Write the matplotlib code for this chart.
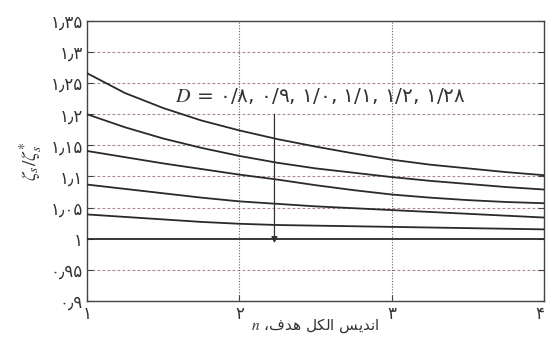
import numpy as np
import matplotlib.pyplot as plt

plt.rcParams['font.family'] = ['DejaVu Sans']
plt.rcParams['mathtext.fontset'] = 'stix'

# n values and zeta ratio curves (top to bottom, D = 0.8 ... 1.28)
n = [1, 1.25, 1.5, 1.75, 2, 2.25, 2.5, 2.75, 3, 3.25, 3.5, 3.75, 4]
c1 = [1.266, 1.234, 1.210, 1.190, 1.174, 1.160, 1.148, 1.137, 1.127, 1.119, 1.113, 1.107, 1.102]
c2 = [1.200, 1.179, 1.161, 1.146, 1.133, 1.122, 1.113, 1.106, 1.099, 1.093, 1.088, 1.083, 1.079]
c3 = [1.141, 1.131, 1.121, 1.112, 1.103, 1.095, 1.086, 1.078, 1.071, 1.066, 1.062, 1.059, 1.057]
c4 = [1.087, 1.080, 1.073, 1.066, 1.060, 1.056, 1.052, 1.049, 1.046, 1.043, 1.040, 1.037, 1.034]
c5 = [1.039, 1.035, 1.031, 1.027, 1.024, 1.022, 1.021, 1.020, 1.019, 1.018, 1.017, 1.016, 1.015]
c6 = [1.0] * 13

yticks = [0.9, 0.95, 1.0, 1.05, 1.1, 1.15, 1.2, 1.25, 1.3, 1.35]
ylabels = ['۰٫۹', '۰٫۹۵', '۱', '۱٫۰۵', '۱٫۱', '۱٫۱۵', '۱٫۲', '۱٫۲۵', '۱٫۳', '۱٫۳۵']
xticks = [1, 2, 3, 4]
xlabels = ['۱', '۲', '۳', '۴']

# matplotlib lays text out left to right without shaping,
# so the words are given in visual order with presentation forms
w1 = '\uFEB2\uFBFE\uFEAA\uFEE7\uFE8D'   # اندیس
w2 = '\uFEDE\uFB91\uFEDF\uFE8D'         # الکل
w3 = '\uFED1\uFEAA\uFEEB'               # هدف
xlab = r'$n$' + ' \u060C' + w3 + ' ' + w2 + ' ' + w1

fig = plt.figure(figsize=(5.47, 3.37), dpi=100)
ax = fig.add_axes([0.159, 0.107, 0.836, 0.831])

for yy in yticks:
    if yy not in (0.9, 1.0, 1.35):
        ax.axhline(yy, color='#a88a8a', lw=0.8, ls=(0, (2.5, 2)), zorder=1)
for xx in [2, 3]:
    ax.axvline(xx, color='#666666', lw=0.8, ls=(0, (1, 1.5)), zorder=1)

for c in [c1, c2, c3, c4, c5, c6]:
    ax.plot(n, c, color='#2a2a2a', lw=1.3, zorder=3)

ax.annotate('', xy=(2.23, 0.993), xytext=(2.23, 1.2),
            arrowprops=dict(arrowstyle='-|>', color='#333333', lw=0.9,
                            mutation_scale=9, shrinkA=0, shrinkB=0), zorder=4)
ax.text(1.58, 1.229, r'$D$ = ۰/۸, ۰/۹, ۱/۰, ۱/۱, ۱/۲, ۱/۲۸', fontsize=14.5,
        color='#333333', va='center', ha='left', zorder=5)

ax.set_xlim(1, 4)
ax.set_ylim(0.9, 1.35)
ax.set_xticks(xticks)
ax.set_xticklabels(xlabels, fontsize=12)
ax.get_xticklabels()[-1].set_ha('right')
ax.set_yticks(yticks)
ax.set_yticklabels(ylabels, fontsize=12)
ax.tick_params(direction='in', length=4, color='#444444', labelcolor='#333333',
               right=True, top=False, pad=3)
for s in ax.spines.values():
    s.set_color('#444444')
    s.set_linewidth(1.0)

ax.set_xlabel(xlab, fontsize=11, color='#333333', labelpad=-5)
ax.set_ylabel(r'$\zeta_s/\zeta_s^{*}$', fontsize=14, color='#333333', labelpad=4)

fig.savefig('out.png', dpi=100)
